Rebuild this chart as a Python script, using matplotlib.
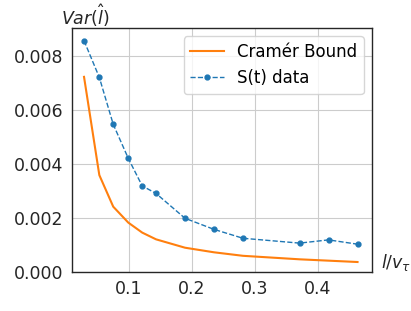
import numpy as np
import matplotlib.pyplot as plt

# l / v_tau values
x = [0.0286, 0.0529, 0.075, 0.0989, 0.121, 0.143, 0.189, 0.235, 0.281, 0.371, 0.417, 0.463]
# Cramer bound
cramer = [0.00723, 0.00359, 0.00242, 0.00183, 0.00146, 0.00121, 0.00090, 0.00073, 0.00060, 0.00047, 0.00042, 0.00037]
# measured variance from S(t)
var_st = [0.00857, 0.00721, 0.00547, 0.00421, 0.00319, 0.00291, 0.00199, 0.00158, 0.00125, 0.00107, 0.00119, 0.00103]

fig = plt.figure(figsize=(4.11, 3.11), dpi=100)
ax = fig.add_axes([72 / 411, 1 - 272 / 311, 300 / 411, 244 / 311])

ax.plot(x, cramer, color="#ff7f0e", lw=1.5, label="Cramér Bound")
ax.plot(x, var_st, "--", marker="o", ms=3.5, lw=1, color="#1f77b4", label="S(t) data")

ax.set_xlim(0.0095, 0.486)
ax.set_ylim(0, 0.00904)
ax.set_xticks([0.1, 0.2, 0.3, 0.4])
ax.set_yticks([0, 0.002, 0.004, 0.006, 0.008])
ax.set_yticklabels(["0.000", "0.002", "0.004", "0.006", "0.008"])
ax.tick_params(labelsize=12.5, length=0, pad=6, colors="#262626")
ax.grid(True, color="#cccccc", lw=0.8)
ax.set_axisbelow(True)
for sp in ax.spines.values():
    sp.set_color("#262626")
    sp.set_linewidth(1.0)

ax.text(0.045, 0.997, r"$Var(\hat{l})$", transform=ax.transAxes, fontsize=12.5,
        ha="center", va="bottom", color="#262626")
ax.text(1.03, 0.04, r"$l/v_\tau$", transform=ax.transAxes, fontsize=12.5,
        ha="left", va="center", color="#262626")

ax.legend(fontsize=12, loc="upper right", framealpha=0.8, edgecolor="#cccccc")

fig.savefig("out.png", dpi=100)
